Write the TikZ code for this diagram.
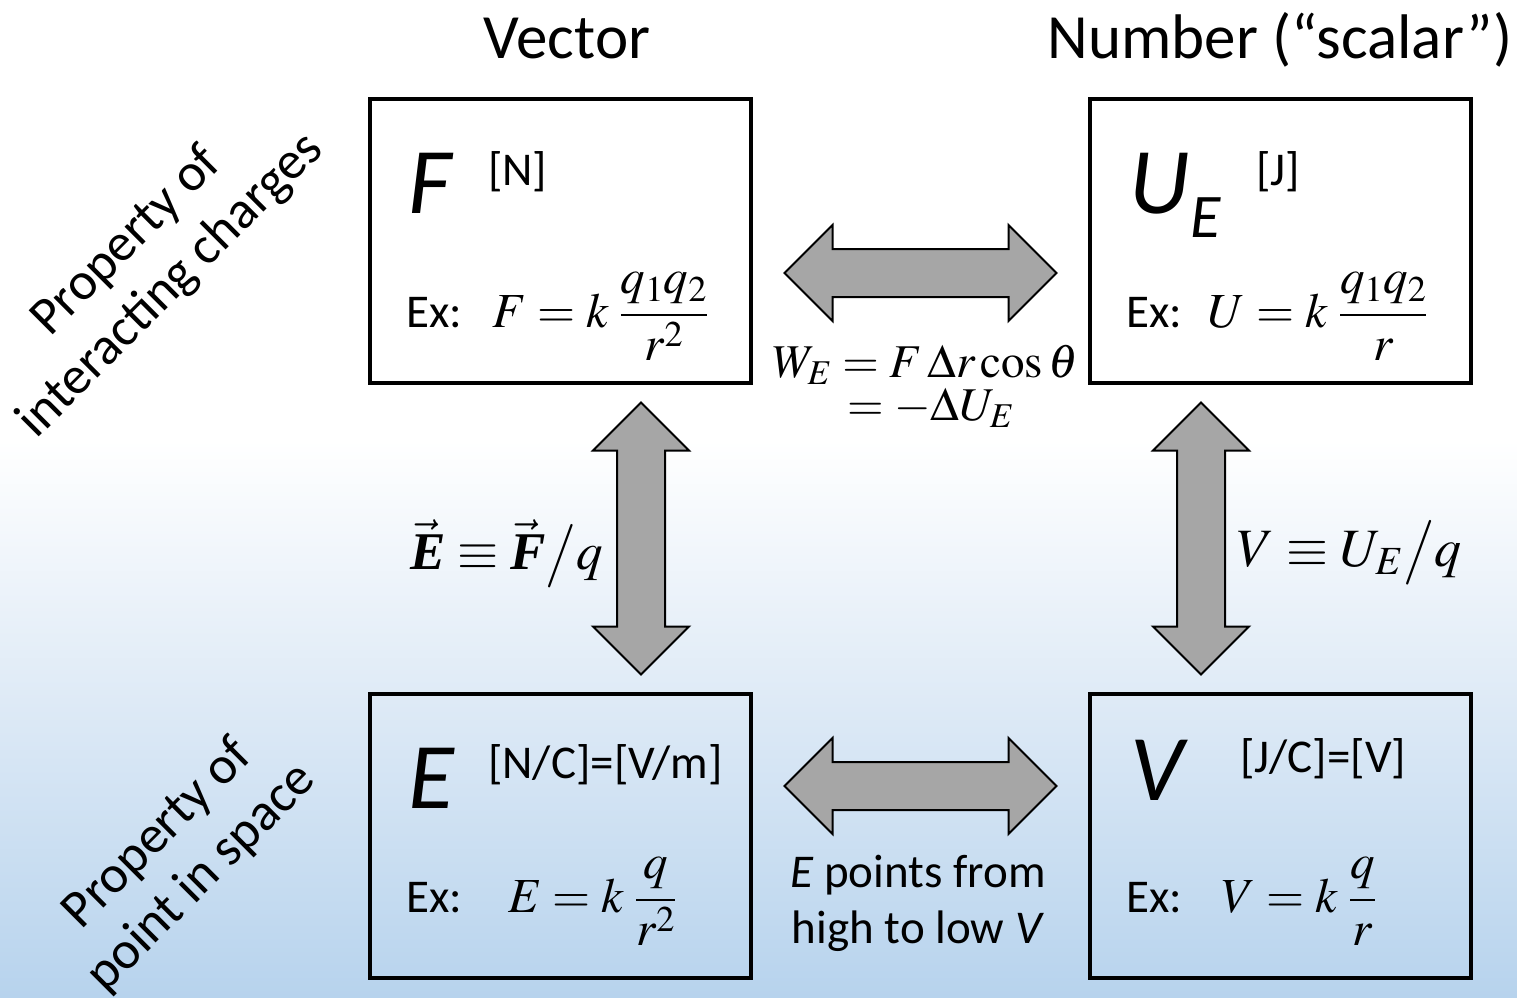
\documentclass[tikz,border=0pt]{standalone}
\usepackage{mathptmx}
\usepackage{amsmath}
\usepackage[no-math]{fontspec}
\setmainfont{Carlito}
\newfontfamily\timesfont{Liberation Serif}
\usetikzlibrary{calc}

\definecolor{bgMid}{RGB}{222,234,246}
\definecolor{bgBlue}{RGB}{183,211,237}
\definecolor{arrowGray}{RGB}{166,166,166}

\newcommand{\bvec}[1]{\vec{\text{\timesfont\bfseries\itshape #1}}}

\begin{document}
\begin{tikzpicture}[
    x=1pt, y=-1pt,
    qbox/.style={draw=black, line width=4pt, minimum width=381pt, minimum height=284pt, inner sep=0pt},
    header/.style={font=\fontsize{63}{75}\selectfont, anchor=base, inner sep=0pt},
    bigsym/.style={font=\fontsize{94}{110}\selectfont\itshape, anchor=base west, inner sep=0pt},
    unit/.style={font=\fontsize{47}{56}\selectfont, anchor=base west, inner sep=0pt},
    eqn/.style={font=\fontsize{49}{58}\selectfont, anchor=base west, inner sep=0pt},
    side/.style={font=\fontsize{53}{62}\selectfont, rotate=45, align=center},
    blk/.style={draw=black, line width=2pt, fill=arrowGray, line join=miter},
    dblarrow/.pic={
        \draw [blk] (-136,0) -- (-88,-48) -- (-88,-24) -- (88,-24) -- (88,-48)
            -- (136,0) -- (88,48) -- (88,24) -- (-88,24) -- (-88,48) -- cycle;
    }
]
    \useasboundingbox (0,0) rectangle (1517,997);

    % Background
    \fill [white] (0,0) rectangle (1517,441);
    \shade [top color=white, bottom color=bgMid] (0,440) rectangle (1517,701);
    \shade [top color=bgMid, bottom color=bgBlue] (0,700) rectangle (1517,997);

    % Column headers
    \node [header] (hVec) at (567,58) {Vector};
    \node [header] (hNum) at (1280,58) {Number (“scalar”)};

    % Row labels
    \node [side] (rowTop) at (149,264) {Property of\\interacting charges};
    \node [side] (rowBot) at (180,856) {Property of\\point in space};

    % Boxes
    \node [qbox, fill=white] (boxF) at (560.5,241) {};
    \node [qbox, fill=white] (boxU) at (1280.5,241) {};
    \node [qbox] (boxE) at (560.5,836) {};
    \node [qbox] (boxV) at (1280.5,836) {};

    % Force
    \node [bigsym] (symF) at (408,213) {F};
    \node [unit] (unitF) at (488,185) {[N]};
    \node [unit] (exF) at (406,327) {Ex:};
    \node [eqn] (eqF) at (492,327) {$\displaystyle F = k\;\frac{q_1q_2}{r^2}$};

    % Potential energy
    \node [bigsym] (symU) at (1129,213) {U\kern1pt\raisebox{-24pt}{\fontsize{62}{70}\selectfont E}};
    \node [unit] (unitU) at (1256,185) {[J]};
    \node [unit] (exU) at (1126,327) {Ex:};
    \node [eqn] (eqU) at (1208,327) {$\displaystyle U = k\;\frac{q_1q_2}{r}$};

    % Field
    \node [bigsym] (symE) at (408,808) {E};
    \node [unit] (unitE) at (488,778) {[N/C]=[V/m]};
    \node [unit] (exE) at (406,912) {Ex:};
    \node [eqn] (eqE) at (508,912) {$\displaystyle E = k\;\frac{q}{r^2}$};

    % Potential
    \node [bigsym] (symV) at (1130,800) {V};
    \node [unit] (unitV) at (1240,772) {[J/C]=[V]};
    \node [unit] (exV) at (1126,912) {Ex:};
    \node [eqn] (eqV) at (1222,912) {$\displaystyle V = k\;\frac{q}{r}$};

    % Double arrows between the boxes
    \pic at ($(boxF.east)!0.5!(boxU.west)+(0,32)$) {dblarrow};
    \pic at ($(boxE.east)!0.5!(boxV.west)+(0,-50)$) {dblarrow};
    \pic [rotate=90] at ($(boxF.south)!0.5!(boxE.north)+(80.5,0)$) {dblarrow};
    \pic [rotate=90] at ($(boxU.south)!0.5!(boxV.north)+(-79.5,0)$) {dblarrow};

    % Relations
    \node [eqn, font=\fontsize{47}{56}\selectfont] (workA) at (773,377) {$W_E = F\,\Delta r\cos\theta$};
    \node [eqn, font=\fontsize{47}{56}\selectfont] (workB) at (847,420) {$= -\Delta U_E$};
    \node [eqn, font=\fontsize{53}{62}\selectfont] (defE) at (410,569) {$\bvec{E} \equiv \bvec{F}\big/q$};
    \node [eqn, font=\fontsize{54}{62}\selectfont] (defV) at (1237,566) {$V \equiv U_E\big/q$};
    \node [font=\fontsize{47}{56}\selectfont, align=center] (dirNote) at (918,903) {\textit{E} points from\\high to low \textit{V}};
\end{tikzpicture}
\end{document}
